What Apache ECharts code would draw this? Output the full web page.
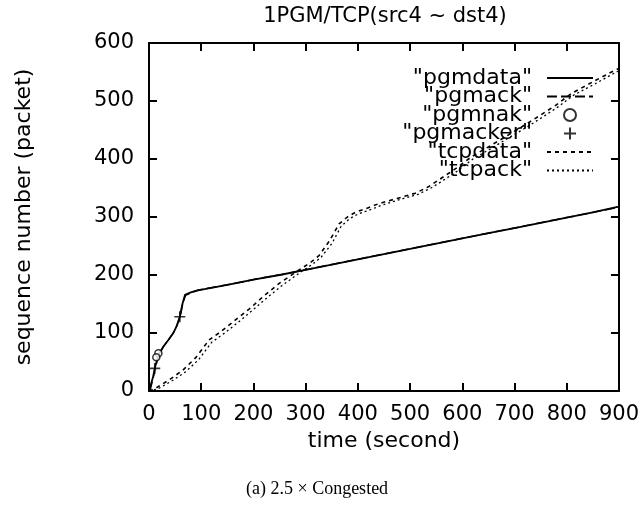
<!DOCTYPE html>
<html>
<head>
<meta charset="utf-8">
<script src="https://cdn.jsdelivr.net/npm/echarts@6/dist/echarts.min.js"></script>
<style>
  html, body { margin: 0; padding: 0; background: #fff; }
  #chart { width: 642px; height: 506px; }
</style>
</head>
<body>
<div id="chart"></div>
<script>
// values: [time (s), sequence number]
var pgmData = [[0,0],[2,2],[8,25],[11,39],[18,62],[27,76],[37,88],[46,99],[53,112],[59,128],[64,150],[69,166],[80,170],[91,173],[150,183],[200,192],[250,200],[300,209],[350,218],[400,227],[450,236],[500,245],[555,255],[600,263],[650,272],[700,281],[750,290],[800,299],[850,308],[895,317],[900,318]];
var pgmAck = [[0,0],[3,4],[9,27],[12,40],[19,63],[28,77],[38,89],[47,101],[54,114],[60,130],[65,152],[70,165],[82,170],[95,174],[155,184],[205,193],[255,201],[305,210],[355,219],[405,228],[455,237],[505,246],[560,256],[605,264],[655,273],[705,282],[755,291],[805,300],[855,309],[900,317]];
var pgmNak = [[18,65],[14,58]];
var pgmAcker = [[11,39],[59,128]];
var tcpData = [[0,0],[15,6],[40,20],[65,36],[90,58],[115,88],[140,104],[165,122],[193,142],[220,164],[250,186],[270,198],[288,209],[310,222],[326,234],[345,258],[364,288],[380,300],[395,308],[420,316],[440,323],[475,332],[510,341],[535,352],[555,364],[585,382],[618,404],[650,421],[682,438],[715,456],[745,473],[778,492],[809,513],[850,533],[892,553],[900,556]];
var tcpAck = [[0,0],[18,4],[45,18],[70,33],[95,54],[120,84],[145,100],[170,118],[198,139],[225,160],[255,182],[275,195],[292,206],[314,219],[330,231],[350,254],[368,284],[384,297],[400,305],[425,313],[445,320],[480,330],[515,339],[540,350],[560,361],[590,379],[622,401],[655,418],[686,435],[720,453],[750,470],[782,489],[813,510],[855,530],[895,550],[900,552]];
var xTicks = [0, 900, 100];
var yTicks = [0, 600, 100];

var FONT = 'DejaVu Sans';
var axisLine = { show: true, onZero: false, lineStyle: { color: '#000', width: 2 } };
var tick = { show: true, inside: true, length: 8, lineStyle: { color: '#000', width: 2 } };
var label = { color: '#000', fontSize: 21, fontFamily: FONT };
var hideDot = { opacity: 0 };

var chart = echarts.init(document.getElementById('chart'), null, { renderer: 'canvas' });
chart.setOption({
  animation: false,
  backgroundColor: '#fff',
  legend: {
    orient: 'vertical',
    right: 43,
    top: 62,
    align: 'right',
    itemGap: -3.5,
    itemWidth: 46,
    itemHeight: 12,
    textStyle: { color: '#000', fontSize: 22, fontFamily: FONT, padding: [0, 10, 0, 0] },
    data: [
      { name: '"pgmdata"', itemStyle: hideDot },
      { name: '"pgmack"', itemStyle: hideDot },
      { name: '"pgmnak"' },
      { name: '"pgmacker"' },
      { name: '"tcpdata"', itemStyle: hideDot },
      { name: '"tcpack"', itemStyle: hideDot }
    ]
  },
  grid: { left: 149, right: 21, top: 43, bottom: 115, containLabel: false },
  xAxis: [
    {
      type: 'value', position: 'bottom',
      min: xTicks[0], max: xTicks[1], interval: xTicks[2],
      name: 'time (second)', nameLocation: 'middle', nameGap: 38,
      nameTextStyle: { color: '#000', fontSize: 22, fontFamily: FONT },
      axisLine: axisLine, axisTick: tick,
      axisLabel: Object.assign({ margin: 13 }, label),
      splitLine: { show: false }
    },
    {
      type: 'value', position: 'top',
      min: xTicks[0], max: xTicks[1], interval: xTicks[2],
      axisLine: axisLine, axisTick: tick,
      axisLabel: { show: false }, splitLine: { show: false }
    }
  ],
  yAxis: [
    {
      type: 'value', position: 'left',
      min: yTicks[0], max: yTicks[1], interval: yTicks[2],
      name: 'sequence number (packet)', nameLocation: 'middle', nameGap: 114,
      nameTextStyle: { color: '#000', fontSize: 22, fontFamily: FONT },
      axisLine: axisLine, axisTick: tick,
      axisLabel: Object.assign({ margin: 15 }, label),
      splitLine: { show: false }
    },
    {
      type: 'value', position: 'right',
      min: yTicks[0], max: yTicks[1], interval: yTicks[2],
      axisLine: axisLine, axisTick: tick,
      axisLabel: { show: false }, splitLine: { show: false }
    }
  ],
  series: [
    {
      name: '"pgmdata"', type: 'line', data: pgmData, symbol: 'none',
      lineStyle: { color: '#000', width: 1.8 }, itemStyle: { color: '#000' }, z: 3
    },
    {
      name: '"pgmack"', type: 'line', data: pgmAck, symbol: 'none',
      lineStyle: { color: '#000', width: 1.5, type: [10, 4] }, itemStyle: { color: '#000' }, z: 2
    },
    {
      name: '"pgmnak"', type: 'scatter', data: pgmNak, symbol: 'circle', symbolSize: 7,
      itemStyle: { color: '#fff', borderColor: '#000', borderWidth: 1.5 }, z: 4
    },
    {
      name: '"pgmacker"', type: 'scatter', data: pgmAcker,
      symbol: 'path://M0,5 L10,5 M5,0 L5,10', symbolSize: 11,
      itemStyle: { color: 'none', borderColor: '#000', borderWidth: 1.6 }, z: 4
    },
    {
      name: '"tcpdata"', type: 'line', data: tcpData, symbol: 'none',
      lineStyle: { color: '#000', width: 1.6, type: [4, 4] }, itemStyle: { color: '#000' }, z: 2
    },
    {
      name: '"tcpack"', type: 'line', data: tcpAck, symbol: 'none',
      lineStyle: { color: '#000', width: 1.3, type: [2, 3] }, itemStyle: { color: '#000' }, z: 2
    }
  ],
  graphic: [
    {
      type: 'text', x: 385, y: 6,
      style: { text: '1PGM/TCP(src4 ~ dst4)', fill: '#000', font: '21px "DejaVu Sans"', textAlign: 'center' }
    },
    {
      type: 'text', left: 246, top: 480,
      style: { text: '(a) 2.5 \u00d7 Congested', fill: '#000', font: '18px "Liberation Serif"' }
    }
  ]
});
</script>
</body>
</html>
